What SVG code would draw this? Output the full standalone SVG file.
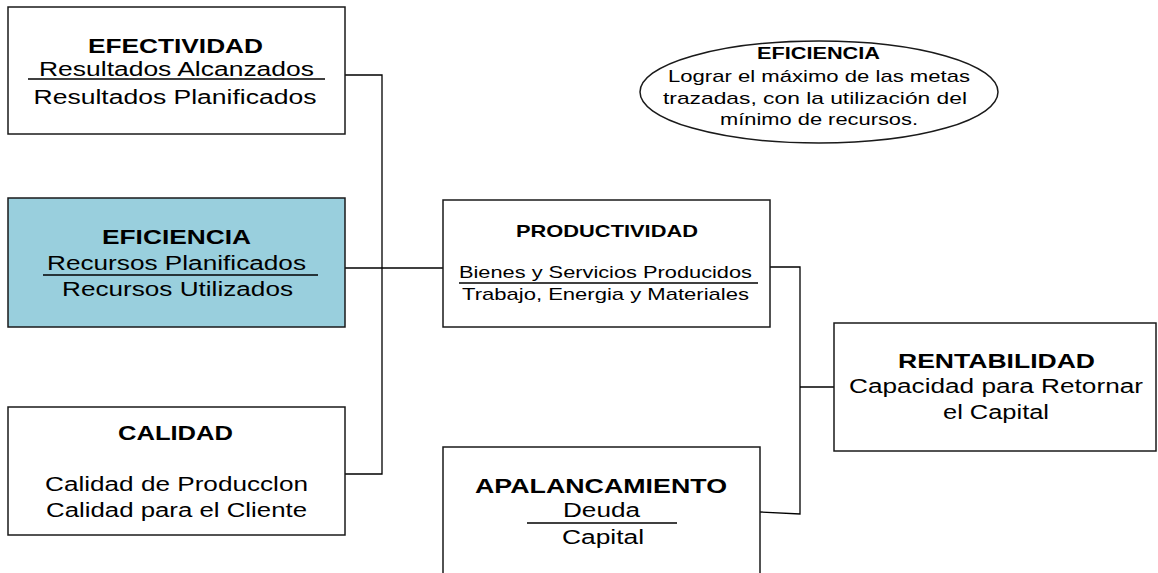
<svg xmlns="http://www.w3.org/2000/svg" width="1158" height="573" viewBox="0 0 1158 573">
<style>
.box{fill:#fff;stroke:#1a1a1a;stroke-width:1.5}
.blue{fill:#99CFDD}
.t{font-family:"Liberation Sans",Arial,sans-serif;fill:#000;text-anchor:middle}
.b{font-weight:bold}
.s20{font-size:20px}
.s17{font-size:17px}
.s16{font-size:16px}
.ln{stroke:#000;stroke-width:1.3;fill:none}
</style>
<rect width="1158" height="573" fill="#fff"/>
<g id="connectors">
<polyline class="ln" points="345,75 382,75 382,474 345,474"/>
<line class="ln" x1="345" y1="268" x2="443" y2="268"/>
<polyline class="ln" points="770,267 800,267 800,514 760,512"/>
<line class="ln" x1="800" y1="387" x2="834" y2="387"/>
</g>
<g id="efectividad">
<rect class="box" x="8" y="7" width="337" height="127"/>
<text class="t b s20" x="175.5" y="53" textLength="175" lengthAdjust="spacingAndGlyphs">EFECTIVIDAD</text>
<text class="t s20" x="176.5" y="76" textLength="275" lengthAdjust="spacingAndGlyphs">Resultados Alcanzados</text>
<line class="ln" x1="28" y1="79" x2="325" y2="79"/>
<text class="t s20" x="175" y="104" textLength="283" lengthAdjust="spacingAndGlyphs">Resultados Planificados</text>
</g>
<g id="eficiencia">
<rect class="box blue" x="8" y="198" width="337" height="129"/>
<text class="t b s20" x="176.5" y="244" textLength="149" lengthAdjust="spacingAndGlyphs">EFICIENCIA</text>
<text class="t s20" x="176.5" y="270" textLength="259" lengthAdjust="spacingAndGlyphs">Recursos Planificados</text>
<line class="ln" x1="43" y1="275" x2="318" y2="275"/>
<text class="t s20" x="177.5" y="296" textLength="231" lengthAdjust="spacingAndGlyphs">Recursos Utilizados</text>
</g>
<g id="calidad">
<rect class="box" x="8" y="407" width="337" height="128"/>
<text class="t b s20" x="175.5" y="440" textLength="115" lengthAdjust="spacingAndGlyphs">CALIDAD</text>
<text class="t s20" x="176.5" y="491" textLength="263" lengthAdjust="spacingAndGlyphs">Calidad de Producclon</text>
<text class="t s20" x="176.5" y="517" textLength="261" lengthAdjust="spacingAndGlyphs">Calidad para el Cliente</text>
</g>
<g id="productividad">
<rect class="box" x="443" y="200" width="327" height="127"/>
<text class="t b s17" x="607" y="237" textLength="182" lengthAdjust="spacingAndGlyphs">PRODUCTIVIDAD</text>
<text class="t s17" x="605.5" y="278" textLength="293" lengthAdjust="spacingAndGlyphs">Bienes y Servicios Producidos</text>
<line class="ln" x1="459" y1="283" x2="758" y2="283"/>
<text class="t s17" x="605.5" y="300" textLength="287" lengthAdjust="spacingAndGlyphs">Trabajo, Energia y Materiales</text>
</g>
<g id="rentabilidad">
<rect class="box" x="834" y="323" width="322" height="128"/>
<text class="t b s20" x="996.5" y="368" textLength="197" lengthAdjust="spacingAndGlyphs">RENTABILIDAD</text>
<text class="t s20" x="996" y="393" textLength="294" lengthAdjust="spacingAndGlyphs">Capacidad para Retornar</text>
<text class="t s20" x="996" y="419" textLength="106" lengthAdjust="spacingAndGlyphs">el Capital</text>
</g>
<g id="apalancamiento">
<rect class="box" x="443" y="447" width="317" height="140"/>
<text class="t b s20" x="601" y="493" textLength="252" lengthAdjust="spacingAndGlyphs">APALANCAMIENTO</text>
<text class="t s20" x="601.5" y="517" textLength="77" lengthAdjust="spacingAndGlyphs">Deuda</text>
<line class="ln" x1="527" y1="523" x2="677" y2="523"/>
<text class="t s20" x="603" y="544" textLength="82" lengthAdjust="spacingAndGlyphs">Capital</text>
</g>
<g id="eficiencia-nota">
<ellipse class="box" cx="819" cy="92" rx="179" ry="51"/>
<text class="t b s16" x="818.5" y="59" textLength="123" lengthAdjust="spacingAndGlyphs">EFICIENCIA</text>
<text class="t s17" x="819" y="82" textLength="302" lengthAdjust="spacingAndGlyphs">Lograr el máximo de las metas</text>
<text class="t s17" x="815" y="104" textLength="304" lengthAdjust="spacingAndGlyphs">trazadas, con la utilización del</text>
<text class="t s17" x="819" y="125" textLength="198" lengthAdjust="spacingAndGlyphs">mínimo de recursos.</text>
</g>
</svg>
